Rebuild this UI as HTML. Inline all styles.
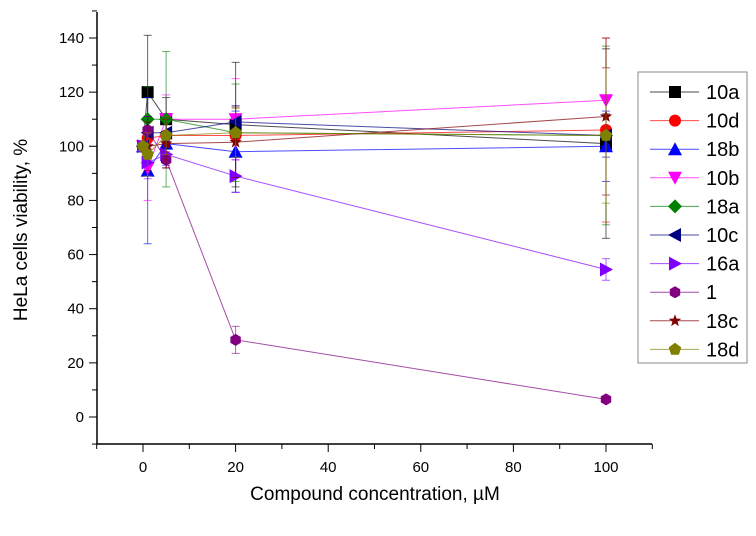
<!DOCTYPE html>
<html><head><meta charset="utf-8"><style>
body{margin:0;background:#fff;}
svg text{font-family:"Liberation Sans",sans-serif;}
</style></head><body>
<svg id="chart" width="756" height="531" xmlns="http://www.w3.org/2000/svg"></svg>
<script>
const concentrations=[0,1,5,20,100];
const seriesNames=["10a","10d","18b","10b","18a","10c","16a","1","18c","18d"];
const v10a=[100,120,110,108,101];
const v10d=[100,103,104,104,106];
const v18b=[100,91,101,98,100];
const v10b=[100,92,110,110,117];
const v18a=[100,110,110,105,104];
const v10c=[100,105,105,109,104];
const v16a=[100,94,97,89,54.5];
const v1=[100,106,95,28.5,6.5];
const v18c=[100,100,101,101.5,111];
const v18d=[100,97,104,105,104];
const err10a=[0,21,8,23,35];
const err10d=[0,6,7,8,34];
const err18b=[0,27,8,15,13];
const err10b=[0,12,9,15,12];
const err18a=[0,12,25,18,33];
const err10c=[0,6,6,6,8];
const err16a=[0,6,5,6,4];
const err1=[0,5,3,5,1];
const err18c=[0,9,9,13,29];
const err18d=[0,8,7,9,25];
const xTicks=[0,20,40,60,80,100];
const yTicks=[0,20,40,60,80,100,120,140];
const values=[v10a,v10d,v18b,v10b,v18a,v10c,v16a,v1,v18c,v18d];
const errs=[err10a,err10d,err18b,err10b,err18a,err10c,err16a,err1,err18c,err18d];
const colors=["#000000","#ff0000","#0000ff","#ff00ff","#008000","#000080","#8000ff","#800080","#800000","#808000"];
const shapes=["square","circle","up","down","diamond","left","right","hex","star","pent"];
const NS="http://www.w3.org/2000/svg";
const svg=document.getElementById("chart");
const X=v=>143+(v-0)*(606-143)/100;
const Y=v=>417-v*(417-38)/140;
function el(t,a,p){const e=document.createElementNS(NS,t);for(const k in a)e.setAttribute(k,a[k]);(p||svg).appendChild(e);return e;}
// axes
const ax=el("g",{});


el("line",{x1:97,y1:12,x2:97,y2:444,stroke:"#000","stroke-width":1.5},ax);
el("line",{x1:97,y1:444,x2:652,y2:444,stroke:"#000","stroke-width":1.5},ax);
for(let v=-10;v<=110;v+=10){el("line",{x1:X(v),y1:444,x2:X(v),y2:v%20==0?452:449,stroke:"#000","stroke-width":1},ax);}
xTicks.forEach(v=>{const t=el("text",{x:X(v),y:472,"font-size":15,"text-anchor":"middle"},ax);t.textContent=v;
});
for(let v=-10;v<=150;v+=10){el("line",{x1:97,x2:v%20==0?89:92,y1:Y(v),y2:Y(v),stroke:"#000","stroke-width":1},ax);}
yTicks.forEach(v=>{const t=el("text",{x:84,y:Y(v)+5,"font-size":15,"text-anchor":"end"},ax);t.textContent=v;
});
const xt=el("text",{x:375,y:500,"font-size":19,"text-anchor":"middle"});xt.textContent="Compound concentration, \u00b5M";

const yt=el("text",{x:0,y:0,"font-size":19,"text-anchor":"middle",transform:"translate(27,230) rotate(-90)"});yt.textContent="HeLa cells viability, %";

function marker(shape,cx,cy,c,g){const s=6;let pts;
 if(shape=="square")return el("rect",{x:cx-s,y:cy-s,width:2*s,height:2*s,fill:c},g);
 if(shape=="circle")return el("circle",{cx,cy,r:s,fill:c},g);
 if(shape=="up")pts=[[0,-s-1],[s+1,s],[-s-1,s]];
 if(shape=="down")pts=[[0,s+1],[s+1,-s],[-s-1,-s]];
 if(shape=="left")pts=[[-s-1,0],[s,-s-1],[s,s+1]];
 if(shape=="right")pts=[[s+1,0],[-s,-s-1],[-s,s+1]];
 if(shape=="diamond")pts=[[0,-s-1],[s+1,0],[0,s+1],[-s-1,0]];
 if(shape=="hex"){pts=[];for(let i=0;i<6;i++){const a=Math.PI/6+i*Math.PI/3;pts.push([s*Math.cos(a),s*Math.sin(a)]);}}
 if(shape=="pent"){pts=[];for(let i=0;i<5;i++){const a=-Math.PI/2+i*2*Math.PI/5;pts.push([s*1.1*Math.cos(a),s*1.1*Math.sin(a)]);}}
 if(shape=="star"){pts=[];for(let i=0;i<10;i++){const a=-Math.PI/2+i*Math.PI/5;const r=i%2?s*0.45:s*1.1;pts.push([r*Math.cos(a),r*Math.sin(a)]);}}
 return el("polygon",{points:pts.map(p=>(cx+p[0])+","+(cy+p[1])).join(" "),fill:c},g);}
values.forEach((vals,si)=>{
 const g=el("g",{});
 
 
 const c=colors[si];
 el("polyline",{points:vals.map((v,i)=>X(concentrations[i])+","+Y(v)).join(" "),fill:"none",stroke:c,"stroke-width":1,opacity:0.7},g);
 vals.forEach((v,i)=>{const e=errs[si][i];if(!e)return;const x=X(concentrations[i]);
  el("line",{x1:x,x2:x,y1:Y(v-e),y2:Y(v+e),stroke:c,"stroke-width":1,opacity:0.6},g);
  el("line",{x1:x-4,x2:x+4,y1:Y(v-e),y2:Y(v-e),stroke:c,"stroke-width":1,opacity:0.6},g);
  el("line",{x1:x-4,x2:x+4,y1:Y(v+e),y2:Y(v+e),stroke:c,"stroke-width":1,opacity:0.6},g);});
 vals.forEach((v,i)=>{const m=marker(shapes[si],X(concentrations[i]),Y(v),c,g);
  });
});
// legend
const lg=el("g",{});


el("rect",{x:638,y:72,width:109,height:291,fill:"#fff",stroke:"#888","stroke-width":1},lg);
seriesNames.forEach((n,i)=>{const y=92+i*28.6;const g=el("g",{},lg);
 
 el("line",{x1:650,x2:699,y1:y,y2:y,stroke:colors[i],"stroke-width":1,opacity:0.7},g);
 marker(shapes[i],675,y,colors[i],g);
 const t=el("text",{x:706,y:y+7,"font-size":20},g);t.textContent=n;});
</script>
</body></html>
